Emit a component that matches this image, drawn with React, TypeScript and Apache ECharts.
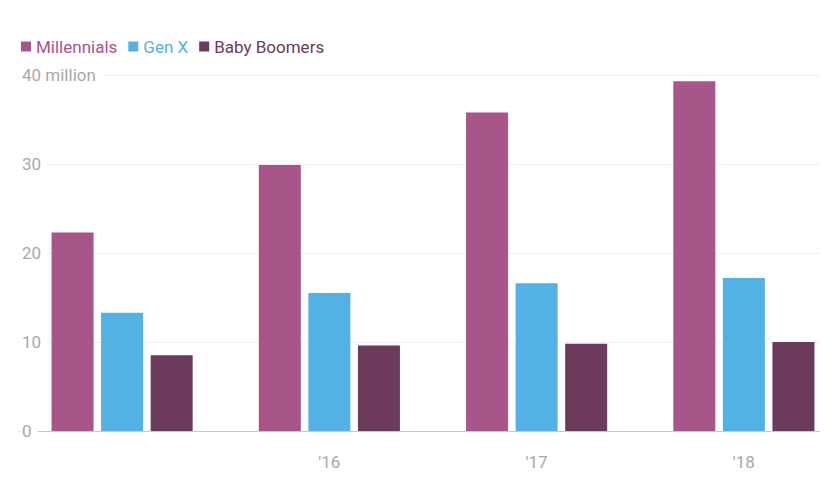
import React, { useEffect, useRef } from "react";
import * as echarts from "echarts";

const categories = ["'15", "'16", "'17", "'18"];
const seriesNames = ["Millennials", "Gen X", "Baby Boomers"];
const millennials = [22.3, 29.9, 35.8, 39.3];
const genX = [13.3, 15.5, 16.6, 17.2];
const babyBoomers = [8.5, 9.6, 9.8, 10.0];
const yTicks = [0, 10, 20, 30, 40];
const colors = ["#a8558a", "#52b2e3", "#6c3a5b"];

export default function App() {
  const ref = useRef<HTMLDivElement>(null);
  useEffect(() => {
    if (!ref.current) return;
    const chart = echarts.init(ref.current, undefined, { renderer: "svg" });
    const font = "Roboto, 'Open Sans', sans-serif";
    const values = [millennials, genX, babyBoomers];
    chart.setOption({
      animation: false,
      backgroundColor: "#ffffff",
      textStyle: { fontFamily: font },
      legend: {
        left: 16,
        top: 33,
        itemWidth: 10,
        itemHeight: 10,
        itemGap: 11,
        icon: "rect",
        data: seriesNames.map((n, i) => ({
          name: n,
          textStyle: { color: colors[i], fontSize: 17, fontFamily: font },
        })),
      },
      grid: [
        { left: 19, right: 20, top: 75, bottom: 60, outerBoundsMode: "none" },
        { left: 18.5, width: 829, top: 75, bottom: 60, outerBoundsMode: "none" },
      ],
      xAxis: [
        { gridIndex: 0, type: "category", data: categories, show: false },
        {
          gridIndex: 1,
          type: "category",
          data: categories,
          axisLine: { show: false },
          axisTick: { show: false },
          axisLabel: {
            color: "#a8a8a8",
            fontSize: 17,
            margin: 22,
            fontFamily: font,
            formatter: (v: string, i: number) => (i === 0 ? "" : v),
          },
        },
      ],
      yAxis: [
        {
          gridIndex: 0,
          type: "value",
          min: yTicks[0],
          max: yTicks[yTicks.length - 1],
          interval: 10,
          axisLine: { show: false },
          axisTick: { show: false },
          splitLine: {
            show: true,
            showMinLine: true,
            showMaxLine: true,
            lineStyle: {
              color: ["#c9c9c9", "#f0f0f0", "#f0f0f0", "#f0f0f0", "#f0f0f0"],
              width: 1,
            },
          },
          axisLabel: {
            inside: true,
            margin: 1,
            color: "#a8a8a8",
            fontSize: 17,
            fontFamily: font,
            backgroundColor: "#ffffff",
            padding: [4, 6, 4, 2],
            formatter: (v: number) => (v === 40 ? "40 million" : String(v)),
          },
        },
        {
          gridIndex: 1,
          type: "value",
          min: yTicks[0],
          max: yTicks[yTicks.length - 1],
          show: false,
          splitLine: { show: false },
        },
      ],
      series: seriesNames.map((n, i) => ({
        name: n,
        type: "bar",
        xAxisIndex: 1,
        yAxisIndex: 1,
        data: values[i],
        barWidth: 42,
        barGap: "18%",
        itemStyle: { color: colors[i] },
      })),
    });
    return () => chart.dispose();
  }, []);
  return (
    <div
      ref={ref}
      style={{ position: "fixed", left: 0, top: 0, width: 840, height: 491 }}
    />
  );
}
